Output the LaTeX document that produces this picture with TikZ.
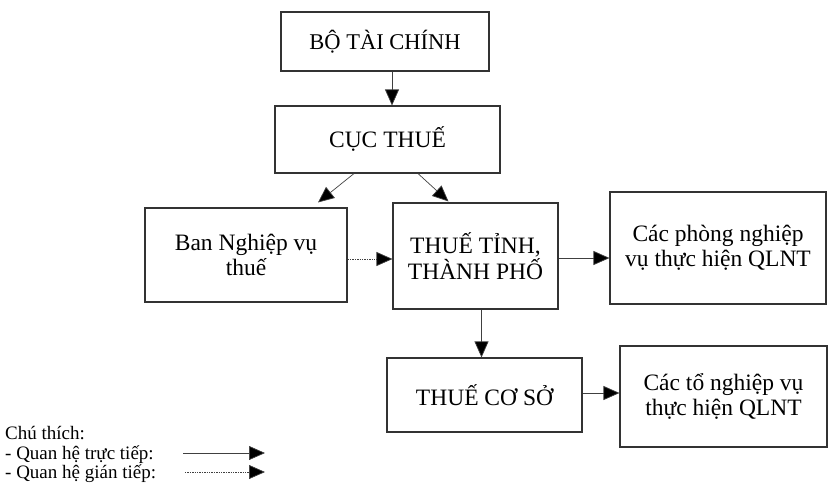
\documentclass[tikz,border=0pt]{standalone}
\usepackage{fontspec}
\setmainfont{Liberation Serif}
\usetikzlibrary{arrows.meta}

\begin{document}
\begin{tikzpicture}[x=1pt,y=-1pt,
  box/.style={draw=black!80,line width=1.1pt,align=center,inner sep=0pt,
    font=\fontsize{23.5}{25.5}\selectfont},
  arr/.style={draw=black!75,line width=0.7pt,-{Triangle[length=16pt,width=14pt,fill=black]}},
  dotarr/.style={arr,dash pattern=on 1.4pt off 1pt},
  legend/.style={anchor=base west,inner sep=0pt,font=\fontsize{19}{20}\selectfont}]
\useasboundingbox (0,0) rectangle (829,488);
%boxes
\node[box,minimum width=208pt,minimum height=59pt,font=\fontsize{22.5}{24}\selectfont] (bo) at (385,41.5) {BỘ TÀI CHÍNH};
\node[box,minimum width=225pt,minimum height=67pt] (cuc) at (387.5,139.5) {CỤC THUẾ};
\node[box,minimum width=202pt,minimum height=94pt] (ban) at (246,255) {Ban Nghiệp vụ\\thuế};
\node[box,minimum width=165pt,minimum height=106pt] (tinh) at (475.5,256) {THUẾ TỈNH,\\THÀNH PHỐ};
\node[box,minimum width=216pt,minimum height=112pt] (phong) at (718,248) {Các phòng nghiệp\\vụ thực hiện QLNT};
\node[box,minimum width=195pt,minimum height=74pt] (coso) at (484.5,395) {THUẾ CƠ SỞ};
\node[box,minimum width=207pt,minimum height=101pt] (to) at (723.5,396.5) {Các tổ nghiệp vụ\\thực hiện QLNT};
%arrows
\draw[arr] ([xshift=7pt]bo.south) -- ([xshift=4.5pt]cuc.north);
\draw[arr] ([xshift=-33.5pt]cuc.south) -- ([xshift=72pt,yshift=5pt]ban.north);
\draw[arr] ([xshift=30.5pt]cuc.south) -- ([xshift=-27pt,yshift=1pt]tinh.north);
\draw[dotarr] ([yshift=-4pt]ban.east) -- ([yshift=-4pt]ban.east -| tinh.west);
\draw[arr] ([yshift=-2pt]tinh.east) -- ([yshift=-2pt]tinh.east -| phong.west);
\draw[arr] ([xshift=6pt]tinh.south) -- ([xshift=-3pt]coso.north);
\draw[arr] ([yshift=2pt]coso.east) -- ([yshift=2pt]coso.east -| to.west);
%legend
\node[legend] (chu) at (5,439) {Chú thích:};
\node[legend] (truc) at (5,459) {- Quan hệ trực tiếp:};
\node[legend] (gian) at (5,478) {- Quan hệ gián tiếp:};
\coordinate (s1) at (183,453);
\coordinate (e1) at (265,453);
\coordinate (s2) at (185,472);
\coordinate (e2) at (265,472);
\draw[arr] (s1) -- (e1);
\draw[dotarr] (s2) -- (e2);
\end{tikzpicture}
\end{document}
